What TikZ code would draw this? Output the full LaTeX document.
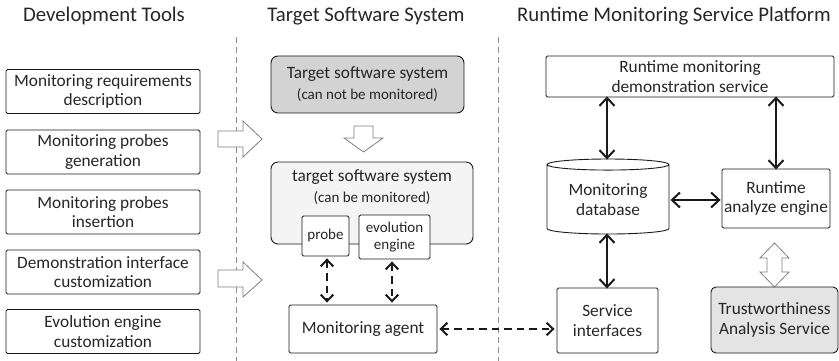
\documentclass[tikz,border=0pt]{standalone}
\usepackage{fontspec}
\setmainfont{Carlito}
\usetikzlibrary{arrows.meta,shapes.geometric}

\definecolor{edge}{HTML}{1A1A1A}
\definecolor{hollowedge}{HTML}{7F7F7F}
\definecolor{darkfill}{HTML}{D3D3D3}
\definecolor{lightfill}{HTML}{F4F4F4}
\definecolor{tasfill}{HTML}{E4E4E4}

\tikzset{
  barbtip/.tip={Straight Barb[length=8pt, width=15pt, line width=2pt]},
  dbarbtip/.tip={Straight Barb[length=6.5pt, width=12.5pt, line width=2pt]},
  title/.style={font=\fontsize{20.8}{24}\selectfont, text=black!85},
  bodyfont/.style={font=\fontsize{17.3}{19.5}\selectfont, text=black!85},
  box/.style={draw=edge, line width=0.9pt, rounded corners=1.5pt, align=center,
    inner sep=0pt, bodyfont},
  softbox/.style={box, rounded corners=7pt},
  small/.style={font=\fontsize{15}{17}\selectfont, text=black!85},
  divider/.style={draw=black!45, line width=1pt, dash pattern=on 6pt off 4pt},
  hollow/.style={draw=hollowedge, line width=0.8pt, fill=white, line join=miter},
  link/.style={draw=edge, line width=2pt, barbtip-barbtip},
  dlink/.style={draw=edge, line width=2pt, dbarbtip-dbarbtip, dash pattern=on 7.5pt off 5pt},
}

\begin{document}
\begin{tikzpicture}[x=1pt, y=-1pt]
\useasboundingbox (0,0) rectangle (839,361);

% column headings
\node[title] (h1) at (104,16) {Development Tools};
\node[title] (h2) at (366,16) {Target Software System};
\node[title] (h3) at (674,16) {Runtime Monitoring Service Platform};

% column dividers
\draw[divider] (236,37) -- (236,361);
\draw[divider] (498,37) -- (498,361);

% development tools
\node[box, minimum width=194, minimum height=44] (t1) at (103,91.5) {Monitoring requirements\\description};
\node[box, minimum width=194, minimum height=44] (t2) at (103,152) {Monitoring probes\\generation};
\node[box, minimum width=194, minimum height=44] (t3) at (103,212) {Monitoring probes\\insertion};
\node[box, minimum width=194, minimum height=44] (t4) at (103,272) {Demonstration interface\\customization};
\node[box, minimum width=194, minimum height=44] (t5) at (103,331.5) {Evolution engine\\customization};

% hollow arrows from the tools into the target system
\draw[hollow] (218,131) -- (243,131) -- (243,121) -- (262,139) -- (243,157) -- (243,147) -- (218,147) -- cycle;
\draw[hollow] (218,270) -- (243,270) -- (243,262) -- (262,280) -- (243,297) -- (243,287) -- (218,287) -- cycle;

% target software system
\node[softbox, fill=darkfill, minimum width=193, minimum height=57] (sys0) at (367.5,84.5) {};
\node[bodyfont] (sys0a) at (367.5,74) {Target software system};
\node[small] (sys0b) at (367.5,95.5) {(can not be monitored)};

\draw[hollow] (354,126) -- (373,126) -- (373,138) -- (383,138) -- (363.5,152) -- (344,138) -- (354,138) -- cycle;

\node[softbox, fill=lightfill, minimum width=202, minimum height=82] (sys1) at (372,203) {};
\node[bodyfont] (sys1a) at (372,177) {target software system};
\node[small] (sys1b) at (372,198.5) {(can be monitored)};

\node[box, fill=white, font=\fontsize{15}{17.5}\selectfont, minimum width=47, minimum height=40] (probe) at (325.5,236) {probe};
\node[box, fill=white, font=\fontsize{15}{17.5}\selectfont, minimum width=71, minimum height=44] (evo) at (394.5,237) {evolution\\engine};

\node[box, minimum width=148, minimum height=48] (agent) at (363,329) {Monitoring agent};

\draw[dlink] ([xshift=1.5pt,yshift=-2pt]probe.south) -- ([xshift=1.5pt,yshift=2pt]probe.south |- agent.north);
\draw[dlink] ([xshift=-2.5pt,yshift=-2pt]evo.south) -- ([xshift=-2.5pt,yshift=2pt]evo.south |- agent.north);

% runtime monitoring service platform
\node[box, minimum width=288, minimum height=41] (demo) at (690,76.5) {Runtime monitoring\\demonstration service};
\node[draw=edge, line width=0.9pt, cylinder, shape border rotate=90, aspect=0.14,
  minimum width=122, minimum height=75, inner sep=0pt, align=center, bodyfont] (db) at (608,199.5) {Monitoring\\database};
\node[box, minimum width=108, minimum height=59] (engine) at (776,198.5) {Runtime\\analyze engine};
\node[box, minimum width=101, minimum height=65] (svc) at (607.5,320.5) {Service\\interfaces};
\node[softbox, rounded corners=5pt, fill=tasfill, minimum width=127, minimum height=66] (tas) at (774.5,320) {Trustworthiness\\Analysis Service};

\draw[link] ([xshift=-1pt,yshift=-1pt]db.top) -- ([xshift=-1pt,yshift=1pt]db.top |- demo.south);
\draw[link] ([yshift=-1pt]engine.north) -- ([yshift=1pt]engine.north |- demo.south);
\draw[link] ([xshift=1pt]db.east |- 0,200) -- ([xshift=-1pt]engine.west |- 0,200);
\draw[link] ([xshift=-1pt,yshift=1pt]db.bottom) -- ([xshift=-1pt,yshift=-1pt]db.bottom |- svc.north);
\draw[dlink] ([xshift=2pt]agent.east) -- ([xshift=-2pt]agent.east -| svc.west);

% exchange between the analyze engine and the trustworthiness service
\draw[hollow] (774.5,243) -- (789,258) -- (782,258) -- (782,272) -- (789,272) -- (774.5,287)
  -- (760,272) -- (767,272) -- (767,258) -- (760,258) -- cycle;
\end{tikzpicture}
\end{document}
